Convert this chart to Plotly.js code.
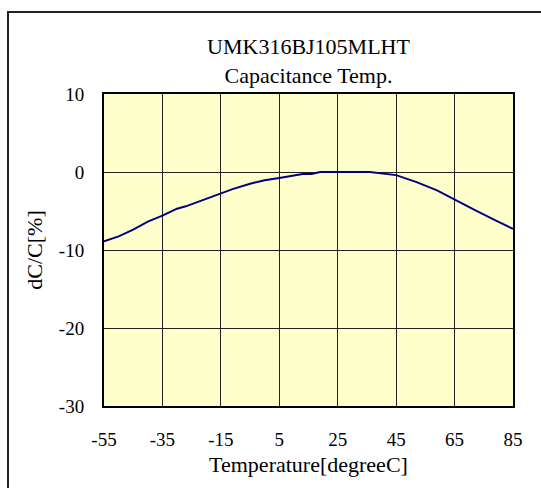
<!DOCTYPE html>
<html>
<head>
<meta charset="utf-8">
<script src="https://cdn.plot.ly/plotly-3.0.1.min.js"></script>
<style>
html,body{margin:0;padding:0;width:541px;height:488px;overflow:hidden;background:#fff;}
#frame{position:absolute;left:7px;top:11px;width:600px;height:600px;border:2px solid #222;box-sizing:border-box;pointer-events:none;z-index:2;}
#chart{position:absolute;left:0;top:0;width:541px;height:488px;}
</style>
</head>
<body>
<div id="chart"></div>
<div id="frame"></div>
<script>
const temperature = [-55,-50,-45,-40,-35,-30,-27,-22,-17,-14,-11,-5,0,5,9,13,16,19,25,36,45,52,59,65,72,79,85];
const dCC = [-8.9,-8.25,-7.4,-6.35,-5.6,-4.7,-4.4,-3.7,-2.95,-2.55,-2.2,-1.5,-1.07,-0.77,-0.47,-0.26,-0.26,0,0,0,-0.4,-1.3,-2.35,-3.55,-4.9,-6.2,-7.3];
const xTicks = [-55,-35,-15,5,25,45,65,85];
const yTicks = [-30,-20,-10,0,10];
const chartTitle = "UMK316BJ105MLHT<br>Capacitance Temp.";
const xTitle = "Temperature[degreeC]";
const yTitle = "dC/C[%]";

const fam = "Liberation Serif";
function f(size) { return {family: fam, size: size, color: "#000"}; }

Plotly.newPlot("chart", [{
  x: temperature, y: dCC, type: "scatter", mode: "lines",
  line: {color: "#000080", width: 2}, hoverinfo: "skip"
}], {
  width: 541, height: 488,
  margin: {l: 104, r: 28, t: 94, b: 82},
  paper_bgcolor: "#fff", plot_bgcolor: "#FFFFCC",
  showlegend: false,
  font: f(19),
  title: {text: chartTitle, font: f(22), x: 0.5, xanchor: "center", xref: "paper", y: 1, yref: "container", yanchor: "top", pad: {t: 54}},
  xaxis: {
    range: [-55, 85], tickvals: xTicks, ticktext: xTicks.map(String),
    showgrid: true, gridcolor: "#222", gridwidth: 1,
    showline: true, linecolor: "#000", linewidth: 2, mirror: true,
    zeroline: false, ticks: "outside", ticklen: 15, tickcolor: "rgba(0,0,0,0)",
    tickfont: f(19),
    title: {text: xTitle, font: f(22), standoff: 8}
  },
  yaxis: {
    range: [-30, 10], tickvals: yTicks, ticktext: yTicks.map(String),
    showgrid: true, gridcolor: "#222", gridwidth: 1,
    showline: true, linecolor: "#000", linewidth: 2, mirror: true,
    zeroline: false, ticks: "outside", ticklen: 14, tickcolor: "rgba(0,0,0,0)",
    tickfont: f(19),
    title: {text: yTitle, font: f(22), standoff: 10}
  }
}, {displayModeBar: false, staticPlot: true});
</script>
</body>
</html>
